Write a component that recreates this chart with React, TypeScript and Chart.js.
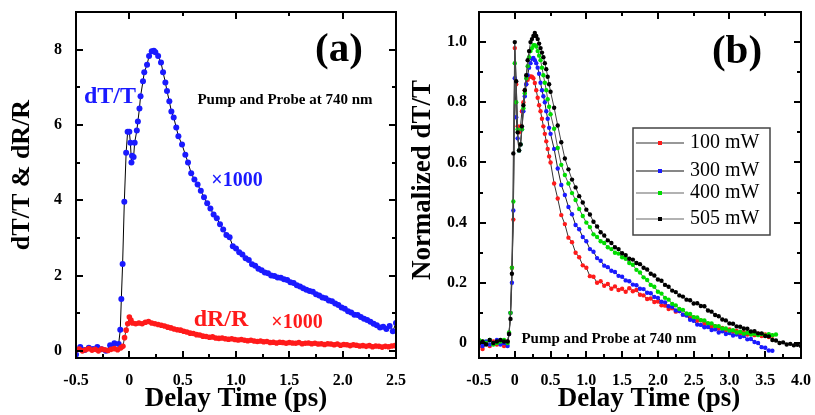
import React, { useEffect, useRef } from "react";
import { Chart, registerables } from "chart.js";
Chart.register(...registerables);

const FONT = '"Liberation Serif", "Times New Roman", serif';
const BLUE = "#1a1aff";
const RED = "#ff1a1a";
const GREEN = "#00dd00";
const BLACK = "#000000";

// ---------- Panel (a) ----------
const TA_BLUE = [-0.5, -0.46, -0.42, -0.38, -0.34, -0.3, -0.26, -0.22, -0.18, -0.14, -0.1,
  -0.085, -0.075, -0.063, -0.047, -0.03, -0.016, 0.0, 0.01, 0.02, 0.025, 0.04, 0.05, 0.07, 0.08, 0.095, 0.105, 0.128, 0.14, 0.166, 0.185, 0.21, 0.23, 0.244, 0.27, 0.297, 0.316, 0.338, 0.353, 0.375, 0.394, 0.416, 0.44, 0.46, 0.494, 0.525, 0.55,
  0.58, 0.61, 0.64, 0.67, 0.7, 0.73, 0.76, 0.79, 0.82, 0.85, 0.88, 0.91, 0.94, 0.97, 1.0, 1.03, 1.06, 1.09, 1.12, 1.15, 1.18, 1.21, 1.24, 1.27, 1.3, 1.33, 1.36, 1.39, 1.42, 1.45, 1.48, 1.51, 1.54, 1.57, 1.6, 1.63, 1.66, 1.69, 1.72, 1.75, 1.78, 1.81, 1.84, 1.87, 1.9, 1.93, 1.96, 1.99, 2.02, 2.05, 2.08, 2.11, 2.14, 2.17, 2.2, 2.23, 2.26, 2.29, 2.32, 2.35, 2.38, 2.41, 2.44, 2.47, 2.5];
const DTT = [-0.1, 0.1, 0.02, 0.08, 0.05, 0.1, 0.04, 0.0, 0.15, 0.2, 0.18,
  0.56, 1.38, 2.31, 3.96, 5.26, 5.82, 5.82, 5.53, 5.0, 5.18, 5.15, 5.53, 5.85, 6.09, 6.44, 6.76, 7.16, 7.4, 7.6, 7.83, 7.96, 7.97, 7.93, 7.83, 7.66, 7.4, 7.13, 6.9, 6.63, 6.36, 6.2, 5.93, 5.7, 5.48, 5.21, 5.0,
  4.72, 4.55, 4.42, 4.25, 4.08, 3.92, 3.78, 3.62, 3.52, 3.36, 3.22, 3.08, 3.02, 2.78, 2.72, 2.62, 2.56, 2.46, 2.41, 2.3, 2.26, 2.18, 2.14, 2.08, 2.06, 2.0, 1.99, 1.95, 1.94, 1.9, 1.88, 1.82, 1.8, 1.74, 1.71, 1.66, 1.62, 1.59, 1.57, 1.5, 1.47, 1.42, 1.4, 1.34, 1.32, 1.26, 1.22, 1.15, 1.12, 1.05, 1.02, 0.96, 0.95, 0.9, 0.85, 0.82, 0.77, 0.72, 0.68, 0.62, 0.64, 0.58, 0.66, 0.52, 0.74];

const TA_RED = [-0.5, -0.47, -0.44, -0.41, -0.38, -0.35, -0.32, -0.29, -0.26, -0.23, -0.2, -0.17, -0.14, -0.11, -0.08,
  -0.06, -0.045, -0.03, -0.015, 0.0, 0.015, 0.03,
  0.06, 0.09, 0.12, 0.15, 0.18, 0.21, 0.24, 0.27, 0.3, 0.33, 0.36, 0.39, 0.42, 0.45, 0.48, 0.51, 0.54, 0.57, 0.6, 0.63, 0.66, 0.69, 0.72, 0.75, 0.78, 0.81, 0.84, 0.87, 0.9, 0.93, 0.96, 0.99, 1.02, 1.05, 1.08, 1.11, 1.14, 1.17, 1.2, 1.23, 1.26, 1.29, 1.32, 1.35, 1.38, 1.41, 1.44, 1.47, 1.5, 1.53, 1.56, 1.59, 1.62, 1.65, 1.68, 1.71, 1.74, 1.77, 1.8, 1.83, 1.86, 1.89, 1.92, 1.95, 1.98, 2.01, 2.04, 2.07, 2.1, 2.13, 2.16, 2.19, 2.22, 2.25, 2.28, 2.31, 2.34, 2.37, 2.4, 2.43, 2.46, 2.49];
const DRR = [0.02, 0.05, 0.0, 0.03, 0.06, 0.02, 0.04, 0.0, 0.05, 0.03, 0.01, 0.04, 0.06, 0.03, 0.08,
  0.12, 0.35, 0.55, 0.72, 0.9, 0.82, 0.74,
  0.72, 0.74, 0.72, 0.76, 0.78, 0.74, 0.72, 0.7, 0.68, 0.66,
  0.63, 0.61, 0.58, 0.56, 0.55, 0.52, 0.5, 0.47, 0.46, 0.43,
  0.42, 0.39, 0.38, 0.36, 0.37, 0.34, 0.33, 0.34, 0.32, 0.31,
  0.32, 0.3, 0.29, 0.3, 0.28, 0.27, 0.28, 0.26, 0.25, 0.26,
  0.24, 0.25, 0.22, 0.23, 0.21, 0.23, 0.22, 0.2, 0.22, 0.21,
  0.2, 0.22, 0.19, 0.2, 0.21, 0.19, 0.2, 0.18, 0.19, 0.17,
  0.19, 0.18, 0.16, 0.18, 0.15, 0.17, 0.16, 0.14, 0.16, 0.15,
  0.13, 0.14, 0.12, 0.14, 0.11, 0.13, 0.12, 0.1, 0.12, 0.11,
  0.13, 0.14];

const XTICKS_A = [-0.5, 2.5, 0.5];
const YTICKS_A = [-0.19, 9.0, 2];

// ---------- Panel (b) ----------
const TB = [-0.5, -0.45, -0.4, -0.35, -0.3, -0.25, -0.2, -0.15, -0.1,
  -0.08, -0.06, -0.04, -0.02, 0, 0.02, 0.04, 0.06, 0.08, 0.1, 0.12, 0.14, 0.16, 0.18, 0.2, 0.22, 0.24, 0.26, 0.28, 0.3, 0.32, 0.34, 0.36, 0.38, 0.4, 0.42, 0.44, 0.46, 0.48, 0.5,
  0.55, 0.6, 0.65, 0.7, 0.75, 0.8, 0.85, 0.9, 0.95, 1.0, 1.05, 1.1, 1.15, 1.2, 1.25, 1.3, 1.35, 1.4, 1.45, 1.5,
  1.55, 1.6, 1.65, 1.7, 1.75, 1.8, 1.85, 1.9, 1.95, 2.0, 2.05, 2.1, 2.15, 2.2, 2.25, 2.3, 2.35, 2.4, 2.45, 2.5, 2.55, 2.6, 2.65, 2.7, 2.75, 2.8, 2.85, 2.9, 2.95, 3.0, 3.05, 3.1, 3.15, 3.2, 3.25, 3.3, 3.35, 3.4, 3.45, 3.5, 3.55, 3.6, 3.65, 3.7, 3.75, 3.8, 3.85, 3.9, 3.95, 4.0];

const P100 = [-0.01, -0.02, 0.0, -0.01, 0.005, -0.005, 0.0, -0.01, 0.005,
  0.03, 0.1, 0.25, 0.41, 0.98, 0.86, 0.72, 0.7, 0.72, 0.77, 0.8, 0.84, 0.86, 0.875, 0.885, 0.886, 0.885, 0.88, 0.864, 0.84, 0.815, 0.79, 0.77, 0.745, 0.72, 0.695, 0.67, 0.645, 0.62, 0.6,
  0.53, 0.48, 0.425, 0.395, 0.35, 0.335, 0.3, 0.285, 0.258, 0.25, 0.222, 0.22, 0.2, 0.205, 0.19, 0.196, 0.18, 0.188, 0.176, 0.18,
  0.17, 0.182, 0.172, 0.176, 0.16, 0.158, 0.146, 0.148, 0.136, 0.138, 0.125, 0.124, 0.113, 0.115, 0.104, 0.106, 0.094, 0.095, 0.084, 0.085, 0.074, 0.075, 0.063, 0.064, 0.054, 0.056, 0.047, 0.05, 0.042, 0.045, 0.037, 0.04, 0.032, 0.036, 0.028, 0.033, 0.026, 0.031, 0.023, 0.028, 0.02, 0.024];
const P300 = [0.0, -0.01, 0.005, -0.005, 0.0, 0.01, -0.005, 0.0, -0.01,
  0.03, 0.1, 0.2, 0.44, 0.88, 0.75, 0.68, 0.64, 0.66, 0.71, 0.77, 0.82, 0.86, 0.89, 0.915, 0.93, 0.945, 0.947, 0.94, 0.93, 0.915, 0.895, 0.865, 0.84, 0.82, 0.8, 0.77, 0.745, 0.715, 0.695,
  0.645, 0.58, 0.525, 0.492, 0.452, 0.428, 0.392, 0.378, 0.352, 0.338, 0.312, 0.303, 0.282, 0.273, 0.257, 0.252, 0.24, 0.236, 0.223, 0.22,
  0.208, 0.205, 0.194, 0.192, 0.18, 0.179, 0.167, 0.165, 0.153, 0.15, 0.137, 0.135, 0.122, 0.12, 0.108, 0.106, 0.094, 0.091, 0.077, 0.074, 0.061, 0.06, 0.052, 0.053, 0.043, 0.045, 0.035, 0.039, 0.03, 0.033, 0.025, 0.028, 0.02, 0.023, 0.012, 0.013, 0.003, 0.0, -0.014, -0.016, -0.025, -0.026];
const P400 = [0.01, 0.005, 0.0, 0.01, -0.005, 0.0, 0.005, 0.01, 0.0,
  0.035, 0.1, 0.25, 0.47, 0.93, 0.8, 0.71, 0.64, 0.66, 0.71, 0.78, 0.83, 0.88, 0.92, 0.95, 0.97, 0.98, 0.99, 0.99, 0.985, 0.97, 0.955, 0.94, 0.915, 0.89, 0.865, 0.84, 0.81, 0.785, 0.76,
  0.712, 0.648, 0.592, 0.558, 0.53, 0.498, 0.475, 0.445, 0.422, 0.4, 0.385, 0.361, 0.352, 0.338, 0.332, 0.318, 0.312, 0.3, 0.297, 0.285,
  0.28, 0.266, 0.26, 0.243, 0.234, 0.218, 0.209, 0.193, 0.187, 0.17, 0.164, 0.15, 0.144, 0.13, 0.125, 0.113, 0.11, 0.098, 0.096, 0.086, 0.085, 0.076, 0.075, 0.066, 0.065, 0.056, 0.056, 0.048, 0.048, 0.041, 0.042, 0.035, 0.037, 0.031, 0.034, 0.028, 0.031, 0.026, 0.03, 0.025, 0.029, 0.026, 0.028];
const P505 = [0.0, 0.005, -0.005, 0.01, 0.0, 0.005, 0.01, 0.005, 0.005,
  0.03, 0.08, 0.23, 0.63, 1.0, 0.87, 0.7, 0.64, 0.66, 0.72, 0.79, 0.84, 0.89, 0.94, 0.97, 1.0, 1.01, 1.02, 1.03, 1.02, 1.01, 0.995, 0.98, 0.965, 0.95, 0.93, 0.91, 0.885, 0.86, 0.835,
  0.782, 0.723, 0.667, 0.613, 0.577, 0.543, 0.517, 0.488, 0.467, 0.443, 0.427, 0.403, 0.387, 0.368, 0.357, 0.341, 0.332, 0.318, 0.312, 0.298,
  0.292, 0.28, 0.277, 0.266, 0.262, 0.25, 0.244, 0.23, 0.224, 0.211, 0.207, 0.193, 0.187, 0.174, 0.169, 0.158, 0.154, 0.144, 0.142, 0.131, 0.132, 0.123, 0.122, 0.108, 0.104, 0.093, 0.089, 0.078, 0.075, 0.065, 0.064, 0.055, 0.054, 0.048, 0.047, 0.038, 0.039, 0.032, 0.032, 0.023, 0.022, 0.01, 0.008, 0.0, 0.002, -0.005, -0.003, -0.008, -0.006, -0.01];

const LEGEND_B = ["100 mW", "300 mW", "400 mW", "505 mW"];
const XTICKS_B = [-0.5, 4.0, 0.5];
const YTICKS_B = [-0.05, 1.1, 0.2];

// ---------- helpers ----------
function pairs(xs: number[], ys: number[]) {
  return ys.map((y, i) => ({ x: xs[i], y }));
}
function fmt1(v: number) {
  if (Math.abs(v) < 1e-9) return "0";
  return (Math.round(v * 10) / 10).toFixed(1);
}
function fmt0(v: number) {
  return String(Math.round(v));
}

type TickSpec = { side: "top" | "bottom" | "left" | "right"; step: number; major: number };
type TextSpec = { text: string; x: number; y: number; size: number; color?: string; weight?: string; rotate?: number; align?: CanvasTextAlign };
type LegendItem = { label: string; color: string; line: string; y: number };
type LegendSpec = { box: number[]; items: LegendItem[]; lineX: number[]; textX: number };
type Deco = { ticks: TickSpec[]; texts: TextSpec[]; legend?: LegendSpec };

function drawText(ctx: CanvasRenderingContext2D, t: TextSpec) {
  ctx.save();
  ctx.font = `${t.weight || "bold"} ${t.size}px ${FONT}`;
  ctx.fillStyle = t.color || "#000";
  ctx.textAlign = t.align || "center";
  ctx.textBaseline = "middle";
  ctx.translate(t.x, t.y);
  if (t.rotate) ctx.rotate(t.rotate);
  ctx.fillText(t.text, 0, 0);
  ctx.restore();
}

function drawFrame(chart: any, ticks: TickSpec[]) {
  const ctx = chart.ctx as CanvasRenderingContext2D;
  const a = chart.chartArea;
  const L = Math.round(a.left), R = Math.round(a.right), T = Math.round(a.top), B = Math.round(a.bottom);
  ctx.save();
  ctx.fillStyle = "#000000";
  ctx.fillRect(L - 1, T - 1, R - L + 2, 2);
  ctx.fillRect(L - 1, B - 1, R - L + 2, 2);
  ctx.fillRect(L - 1, T - 1, 2, B - T + 2);
  ctx.fillRect(R - 1, T - 1, 2, B - T + 2);
  for (const t of ticks) {
    const horiz = t.side === "top" || t.side === "bottom";
    const sc = horiz ? chart.scales.x : chart.scales.y;
    const k0 = Math.ceil(sc.min / t.step - 1e-6);
    const k1 = Math.floor(sc.max / t.step + 1e-6);
    for (let k = k0; k <= k1; k++) {
      const v = k * t.step;
      const r = v / t.major;
      const isMajor = Math.abs(r - Math.round(r)) < 1e-6;
      const len = isMajor ? 7 : 4;
      const p = Math.round(sc.getPixelForValue(v));
      if (t.side === "bottom") ctx.fillRect(p - 1, B - len, 2, len);
      else if (t.side === "top") ctx.fillRect(p - 1, T, 2, len);
      else if (t.side === "left") ctx.fillRect(L, p - 1, len, 2);
      else ctx.fillRect(R - len, p - 1, len, 2);
    }
  }
  ctx.restore();
}

function drawLegend(ctx: CanvasRenderingContext2D, lg: LegendSpec) {
  const [x, y, w, h] = lg.box;
  ctx.save();
  ctx.fillStyle = "#ffffff";
  ctx.fillRect(x, y, w, h);
  ctx.strokeStyle = "#444444";
  ctx.lineWidth = 1.5;
  ctx.strokeRect(x, y, w, h);
  for (const it of lg.items) {
    ctx.strokeStyle = it.line;
    ctx.lineWidth = 1.2;
    ctx.beginPath();
    ctx.moveTo(lg.lineX[0], it.y);
    ctx.lineTo(lg.lineX[1], it.y);
    ctx.stroke();
    ctx.fillStyle = it.color;
    const cx = (lg.lineX[0] + lg.lineX[1]) / 2;
    ctx.fillRect(cx - 2, it.y - 2, 4, 4);
    drawText(ctx, { text: it.label, x: lg.textX, y: it.y, size: 20, weight: "normal", align: "left" });
  }
  ctx.restore();
}

function axisFont() {
  return { family: FONT, size: 16, weight: "bold" };
}

function xScale(lim: number[]) {
  return {
    type: "linear", min: lim[0], max: lim[1],
    grid: { display: false, drawTicks: false }, border: { display: false },
    ticks: { stepSize: lim[2], includeBounds: false, padding: 13, color: "#000", font: axisFont(), maxRotation: 0, autoSkip: false, callback: (v: any) => fmt1(Number(v)) },
    afterFit: (s: any) => { s.height = 57; s.paddingLeft = 0; s.paddingRight = 0; },
  };
}
function yScale(lim: number[], width: number, pad: number, f: (v: number) => string) {
  return {
    type: "linear", min: lim[0], max: lim[1],
    grid: { display: false, drawTicks: false }, border: { display: false },
    ticks: { stepSize: lim[2], includeBounds: false, padding: pad, color: "#000", font: axisFont(), callback: (v: any) => f(Number(v)) },
    afterFit: (s: any) => { s.width = width; s.paddingTop = 0; s.paddingBottom = 0; },
  };
}

const DECO_A: Deco = {
  ticks: [
    { side: "bottom", step: 0.25, major: 0.5 },
    { side: "top", step: 0.5, major: 1 },
    { side: "left", step: 1, major: 2 },
    { side: "right", step: 1, major: 2 },
  ],
  texts: [
    { text: "(a)", x: 339, y: 50, size: 41 },
    { text: "dT/T", x: 110, y: 97, size: 24, color: BLUE },
    { text: "Pump and Probe at 740 nm", x: 285, y: 100, size: 15 },
    { text: "×1000", x: 237, y: 181, size: 20, color: BLUE },
    { text: "dR/R", x: 221, y: 320, size: 24, color: RED },
    { text: "×1000", x: 297, y: 323, size: 20, color: RED },
    { text: "dT/T & dR/R", x: 22, y: 175, size: 26, rotate: -Math.PI / 2 },
    { text: "Delay Time (ps)", x: 236, y: 399, size: 27 },
  ],
};

const DECO_B: Deco = {
  ticks: [
    { side: "bottom", step: 0.25, major: 0.5 },
    { side: "top", step: 0.5, major: 1 },
    { side: "left", step: 0.1, major: 0.2 },
    { side: "right", step: 0.1, major: 0.2 },
  ],
  texts: [
    { text: "(b)", x: 327, y: 52, size: 41 },
    { text: "Pump and Probe at 740 nm", x: 199, y: 339, size: 15 },
    { text: "Normalized dT/T", x: 13, y: 180, size: 27, rotate: -Math.PI / 2 },
    { text: "Delay Time (ps)", x: 239, y: 399, size: 27 },
  ],
  legend: {
    box: [223, 128, 137, 107],
    lineX: [226, 274],
    textX: 280,
    items: [
      { label: LEGEND_B[0], color: RED, line: "#333", y: 143 },
      { label: LEGEND_B[1], color: BLUE, line: "#111", y: 171 },
      { label: LEGEND_B[2], color: GREEN, line: "#666", y: 193 },
      { label: LEGEND_B[3], color: BLACK, line: "#666", y: 219 },
    ],
  },
};

function configA() {
  return {
    type: "scatter",
    data: {
      datasets: [
        { label: "dR/R", data: pairs(TA_RED, DRR), showLine: true, borderColor: "#333", borderWidth: 1, pointRadius: 2.8, pointBackgroundColor: RED, pointBorderColor: RED, pointBorderWidth: 0, order: 1 },
        { label: "dT/T", data: pairs(TA_BLUE, DTT), showLine: true, borderColor: "#000", borderWidth: 1, pointRadius: 3, pointBackgroundColor: BLUE, pointBorderColor: BLUE, pointBorderWidth: 0, order: 2 },
      ],
    },
    options: {
      animation: false,
      responsive: false,
      devicePixelRatio: 1,
      layout: { padding: { top: 12, right: 14, left: 0, bottom: 0 } },
      plugins: { legend: { display: false }, tooltip: { enabled: false } },
      scales: { x: xScale(XTICKS_A), y: yScale(YTICKS_A, 76, 14, fmt0) },
    },
  };
}

function seriesB(label: string, ys: number[], color: string, line: string, order: number) {
  return { label, data: pairs(TB, ys), showLine: true, borderColor: line, borderWidth: 1, pointRadius: 2.2, pointBackgroundColor: color, pointBorderColor: color, pointBorderWidth: 0, order };
}

function configB() {
  return {
    type: "scatter",
    data: {
      datasets: [
        seriesB(LEGEND_B[0], P100, RED, "#333", 4),
        seriesB(LEGEND_B[1], P300, BLUE, "#222", 3),
        seriesB(LEGEND_B[2], P400, GREEN, "#555", 2),
        seriesB(LEGEND_B[3], P505, BLACK, "#444", 1),
      ],
    },
    options: {
      animation: false,
      responsive: false,
      devicePixelRatio: 1,
      layout: { padding: { top: 12, right: 14, left: 0, bottom: 0 } },
      plugins: { legend: { display: false }, tooltip: { enabled: false } },
      scales: { x: xScale(XTICKS_B), y: yScale(YTICKS_B, 69, 12, fmt1) },
    },
  };
}

function Panel({ make, deco, left, width }: { make: () => any; deco: Deco; left: number; width: number }) {
  const ref = useRef<HTMLCanvasElement | null>(null);
  useEffect(() => {
    if (!ref.current) return;
    const plug = {
      id: "decoration",
      afterDraw(chart: any) {
        const ctx = chart.ctx as CanvasRenderingContext2D;
        drawFrame(chart, deco.ticks);
        for (const t of deco.texts) drawText(ctx, t);
        if (deco.legend) drawLegend(ctx, deco.legend);
      },
    };
    const cfg = make();
    cfg.plugins = [plug];
    const chart = new Chart(ref.current, cfg);
    return () => chart.destroy();
  }, []);
  return (
    <canvas
      ref={ref}
      width={width}
      height={415}
      style={{ position: "absolute", left, top: 0, width, height: 415 }}
    />
  );
}

export default function App() {
  return (
    <div style={{ position: "absolute", left: 0, top: 0, width: 815, height: 415, background: "#fff", overflow: "hidden" }}>
      <Panel make={configA} deco={DECO_A} left={0} width={410} />
      <Panel make={configB} deco={DECO_B} left={410} width={405} />
    </div>
  );
}
